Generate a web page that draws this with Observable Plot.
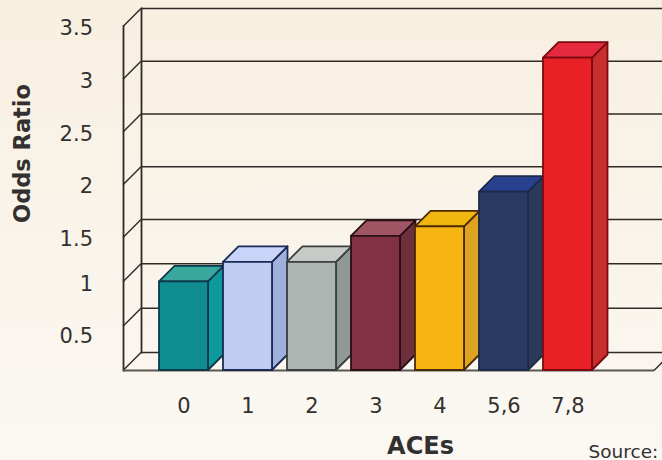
<!DOCTYPE html>
<html>
<head>
<meta charset="utf-8">
<script src="https://cdn.jsdelivr.net/npm/d3@7"></script>
<script src="https://cdn.jsdelivr.net/npm/@observablehq/plot@0.6"></script>
<style>
  html, body { margin: 0; padding: 0; }
  body { width: 662px; height: 460px; overflow: hidden;
         background: linear-gradient(#f8efe0 0%, #f9f3e9 45%, #fbf8f3 100%); }
  svg { display: block; }
</style>
</head>
<body>
<script>
// Odds ratio by number of ACEs
const aces = ["0", "1", "2", "3", "4", "5,6", "7,8"];
const oddsRatios = [1.0, 1.22, 1.22, 1.51, 1.6, 1.93, 3.2];
const frontColors = ["#0f8d90", "#bfcdf3", "#adb4b2", "#823044", "#f7b514", "#2a3a62", "#ea2027"];
const sideColors = ["#0e9a9c", "#a0b0dd", "#8f9a98", "#6e2f3c", "#dca420", "#2b3a5a", "#c72f2f"];
const topColors = ["#3ba8a0", "#c8d5f8", "#c8cac8", "#a05565", "#f1b60f", "#28418f", "#e52a3f"];
const edgeColors = ["#0c3a4a", "#1b2a55", "#3a3f40", "#2a1015", "#4a2a05", "#1e2a4a", "#7a0a0f"];

const yTicks = [0, 0.5, 1, 1.5, 2, 2.5, 3, 3.5];
const yTickLabels = ["0.5", "1", "1.5", "2", "2.5", "3", "3.5"];
const yTickLabelAt = [0.41, 1, 1.5, 2, 2.5, 3, 3.5];

// The value axis is stretched above 1.5
const yKnots = [0, 1.5, 3.5];
const yPixels = [370, 237, 26];

const wallDepth = 18;
const barDepth = 15.5;
const ink = "#2f2a26";
const labelInk = "#333030";
const font = "'DejaVu Sans', Verdana, sans-serif";

const bars = aces.map((ace, i) => ({
  ace, odds: oddsRatios[i], front: frontColors[i], side: sideColors[i],
  top: topColors[i], edge: edgeColors[i]
}));

// Turns each rect a mark would draw into a receding face of its bar
const recede = (corners) => (index, scales, values, dimensions, context, next) => {
  const g = next(index, scales, values, dimensions, context);
  d3.select(g).selectAll("rect").each(function () {
    const [x, y, w, h] = ["x", "y", "width", "height"].map((a) => +this.getAttribute(a));
    const face = document.createElementNS("http://www.w3.org/2000/svg", "polygon");
    for (const a of this.attributes) {
      if (!["x", "y", "width", "height"].includes(a.name)) face.setAttribute(a.name, a.value);
    }
    face.setAttribute("points", corners(x, y, w, h).join(" "));
    this.replaceWith(face);
  });
  return g;
};
const sideFace = (x, y, w, h) => [
  [x + w, y], [x + w + barDepth, y - barDepth],
  [x + w + barDepth, y + h - barDepth], [x + w, y + h]
];
const topFace = (x, y, w) => [
  [x, y], [x + barDepth, y - barDepth], [x + w + barDepth, y - barDepth], [x + w, y]
];

// Slants each rule from the front of the wall to the back
const slant = (index, scales, values, dimensions, context, next) => {
  const g = next(index, scales, values, dimensions, context);
  d3.select(g).selectAll("line").each(function () {
    const x1 = +this.getAttribute("x1");
    const y1 = +this.getAttribute("y1");
    this.setAttribute("x2", x1 + wallDepth);
    this.setAttribute("y2", y1 - wallDepth);
  });
  return g;
};

const barOptions = { x: "ace", y: "odds", strokeWidth: 1.8, strokeLinejoin: "round" };

const chart = Plot.plot({
  width: 662,
  height: 460,
  marginLeft: 123,
  marginRight: 8,
  marginTop: 26,
  marginBottom: 90,
  style: { background: "transparent", fontFamily: font },
  x: { type: "band", domain: aces, range: [159, 592.5], paddingInner: 0.234, paddingOuter: 0, axis: null },
  y: { type: "linear", domain: yKnots, range: yPixels, axis: null },
  marks: [
    // Back wall and floor
    Plot.ruleY(yTicks, { stroke: ink, strokeWidth: 1.5, dx: wallDepth, dy: -wallDepth }),
    Plot.ruleY(yTicks, { stroke: ink, strokeWidth: 1.5, render: slant }),
    Plot.frame({ anchor: "left", stroke: ink, strokeWidth: 1.8 }),
    Plot.frame({ anchor: "left", stroke: ink, strokeWidth: 1.8, dx: wallDepth, dy: -wallDepth }),
    Plot.ruleY([0], { stroke: "#5a5652", strokeWidth: 2.2 }),
    Plot.ruleY([0], { stroke: ink, strokeWidth: 1.5, dx: 531, render: slant }),

    // Bars: sides and tops first, fronts last
    Plot.barY(bars, { ...barOptions, fill: "side", stroke: "edge", render: recede(sideFace) }),
    Plot.barY(bars, { ...barOptions, fill: "top", stroke: "edge", render: recede(topFace) }),
    Plot.barY(bars, { ...barOptions, fill: "front", stroke: "edge" }),

    // Axis labels
    Plot.text(yTickLabels, {
      y: (d, i) => yTickLabelAt[i], frameAnchor: "left", dx: -30.5, dy: 2, textAnchor: "end",
      fontSize: 21, fill: labelInk
    }),
    Plot.text(aces, {
      x: (d) => d, frameAnchor: "bottom", dy: 42, fontSize: 21, fill: labelInk
    }),
    Plot.text(["Odds Ratio"], {
      frameAnchor: "left", dx: -101, dy: -45, rotate: -90, textAnchor: "middle",
      fontSize: 22.5, fontWeight: "bold", fill: labelInk
    }),
    Plot.text(["ACEs"], {
      frameAnchor: "bottom", dx: 31.5, dy: 83, fontSize: 24, fontWeight: "bold", fill: labelInk
    }),
    Plot.text(["Source:"], {
      frameAnchor: "bottom-left", dx: 465, dy: 87, textAnchor: "start", fontSize: 18.5, fill: labelInk
    })
  ]
});
document.body.append(chart);
</script>
</body>
</html>
